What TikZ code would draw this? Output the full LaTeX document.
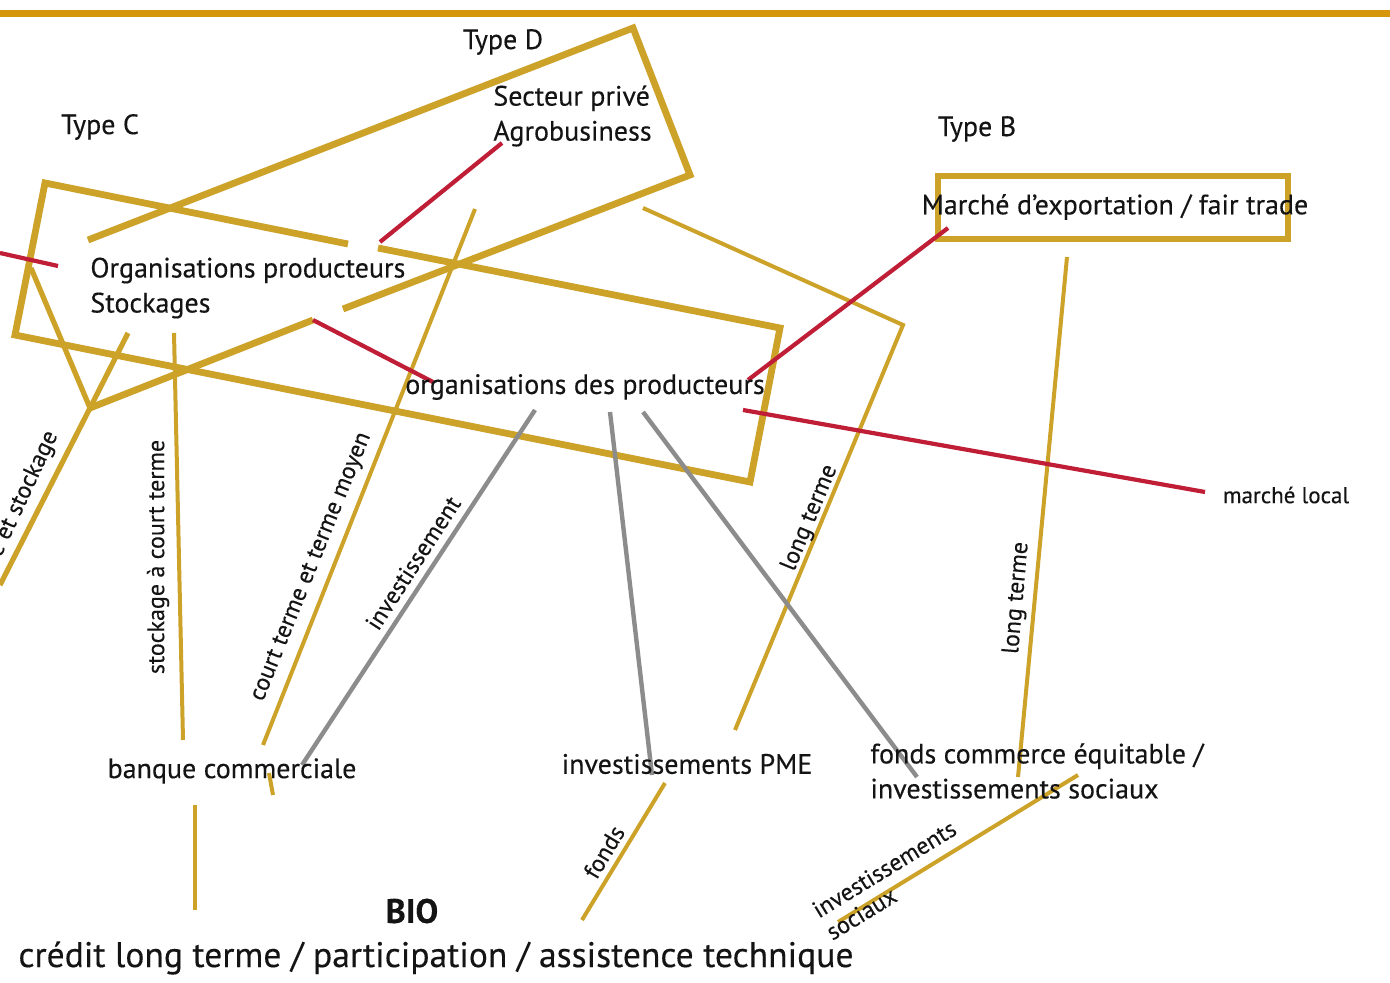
\documentclass[tikz,border=0pt]{standalone}
\usepackage{fontspec}
\setmainfont{PT Sans}[FakeBold=0.25]
\definecolor{gold}{RGB}{205,162,40}
\definecolor{barorange}{RGB}{214,150,12}
\definecolor{linkred}{RGB}{192,30,55}
\definecolor{linkgrey}{RGB}{140,140,140}
\definecolor{txt}{RGB}{20,20,20}
\tikzset{
  thickline/.style={draw=gold, line width=3.4pt, line join=miter},
  medline/.style={draw=gold, line width=2.6pt},
  thinline/.style={draw=gold, line width=2pt},
  redline/.style={draw=linkred, line width=2.1pt},
  greyline/.style={draw=linkgrey, line width=2.2pt},
  lbl/.style={font=\fontsize{14}{17.5}\selectfont, inner sep=0pt, text=txt},
  rlbl/.style={font=\fontsize{12}{13}\selectfont, inner sep=0pt, text=txt},
}
\begin{document}
\begin{tikzpicture}[x=0.5pt,y=-0.5pt]
\useasboundingbox (0,0) rectangle (1390,983);
\fill[white] (0,0) rectangle (1390,983);

% top bar
\coordinate (barL) at (0,13.5);
\coordinate (barR) at (1390,13.5);
\draw[draw=barorange, line width=3.8pt] (barL) -- (barR);

% Type D shape
\coordinate (D1) at (88,240);
\coordinate (D2) at (633,28);
\coordinate (D3) at (690,175);
\coordinate (D4) at (343,309);
\draw[thickline] (D1) -- (D2) -- (D3) -- (D4);

% Type C shape
\coordinate (C1) at (348,244);
\coordinate (C2) at (45,183);
\coordinate (C3) at (15,335);
\coordinate (C4) at (750,482);
\coordinate (C5) at (780,328);
\coordinate (C6) at (378,248);
\draw[thickline] (C1) -- (C2) -- (C3) -- (C4) -- (C5) -- (C6);

% junction lines
\coordinate (J) at (90,408);
\coordinate (V1) at (31,268);
\coordinate (V2) at (128,333);
\coordinate (T1) at (313,320);
\coordinate (S1) at (0,585);
\draw[medline] (V1) -- (J);
\draw[medline] (V2) -- (J);
\draw[thickline] (J) -- (T1);
\draw[medline] (J) -- (S1);

% Marché box
\coordinate (M1) at (938,176);
\coordinate (M2) at (1288,239);
\draw[thickline] (M1) rectangle (M2);

% gold thin links
\coordinate (a1) at (174,333); \coordinate (a2) at (183,740);
\draw[thinline] (a1) -- (a2);
\coordinate (b1) at (475,209); \coordinate (b2) at (263,745);
\coordinate (b3) at (269,773); \coordinate (b4) at (273,795);
\draw[thinline] (b1) -- (b2);
\draw[thinline] (b3) -- (b4);
\coordinate (c1) at (643,208); \coordinate (c2) at (903,325); \coordinate (c3) at (735,730);
\draw[thinline] (c1) -- (c2) -- (c3);
\coordinate (d1) at (1067,257); \coordinate (d2) at (1018,777);
\draw[thinline] (d1) -- (d2);
\coordinate (e1) at (665,783); \coordinate (e2) at (582,920);
\draw[thinline] (e1) -- (e2);
\coordinate (f1) at (1078,775); \coordinate (f2) at (838,922);
\draw[thinline] (f1) -- (f2);
\coordinate (g1) at (195,805); \coordinate (g2) at (195,910);
\draw[thinline] (g1) -- (g2);

% red links
\coordinate (r1a) at (0,253); \coordinate (r1b) at (58,266);
\draw[redline] (r1a) -- (r1b);
\coordinate (r2a) at (502,143); \coordinate (r2b) at (380,242);
\draw[redline] (r2a) -- (r2b);
\coordinate (r3b) at (433,382);
\draw[redline] (T1) -- (r3b);
\coordinate (r4a) at (748,380); \coordinate (r4b) at (948,228);
\draw[redline] (r4a) -- (r4b);
\coordinate (r5a) at (743,410); \coordinate (r5b) at (1205,492);
\draw[redline] (r5a) -- (r5b);

% grey links
\coordinate (h1) at (535,410); \coordinate (h2) at (302,765);
\draw[greyline] (h1) -- (h2);
\coordinate (i1) at (610,412); \coordinate (i2) at (652,775);
\draw[greyline] (i1) -- (i2);
\coordinate (k1) at (643,412); \coordinate (k2) at (917,777);
\draw[greyline] (k1) -- (k2);

% labels
\node[lbl] (typeD) at (503,42) {Type D};
\node[lbl] (typeC) at (100,127) {Type C};
\node[lbl] (typeB) at (977,129) {Type B};
\node[lbl, align=left, anchor=west] (secteur) at (493,116) {Secteur privé\\Agrobusiness};
\node[lbl, align=left, anchor=west] (orgprod) at (90,288) {Organisations producteurs\\Stockages};
\node[lbl] (marche) at (1115,207) {Marché d’exportation / fair trade};
\node[lbl] (orgdes) at (585,387) {organisations des producteurs};
\node[lbl, font=\fontsize{11.5}{13}\selectfont] (local) at (1286,495) {marché local};
\node[lbl] (banque) at (232,771) {banque commerciale};
\node[lbl] (pme) at (687,764) {investissements PME};
\node[lbl, align=left, anchor=west] (fonds) at (870,771) {fonds commerce équitable /\\investissements sociaux};
\node[lbl, font=\fontsize{17}{19}\bfseries\selectfont] (bio) at (412,911) {BIO};
\node[lbl, font=\fontsize{17.8}{20}\selectfont] (credit) at (436,958) {crédit long terme / participation / assistence technique};

% rotated labels
\node[rlbl, rotate=65] (ls1) at (24,494) {e et stockage};
\node[rlbl, rotate=90] (ls2) at (158,557) {stockage à court terme};
\node[rlbl, rotate=68] (ls3) at (312,567) {court terme et terme moyen};
\node[rlbl, rotate=57] (ls4) at (413,563) {investissement};
\node[rlbl, rotate=67.5] (ls5) at (810,518) {long terme};
\node[rlbl, rotate=85] (ls6) at (1017,598) {long terme};
\node[rlbl, rotate=59] (ls7) at (604,852) {fonds};
\node[rlbl, rotate=31.5, align=left] (ls8) at (891,880) {investissements\\sociaux};
\end{tikzpicture}
\end{document}
